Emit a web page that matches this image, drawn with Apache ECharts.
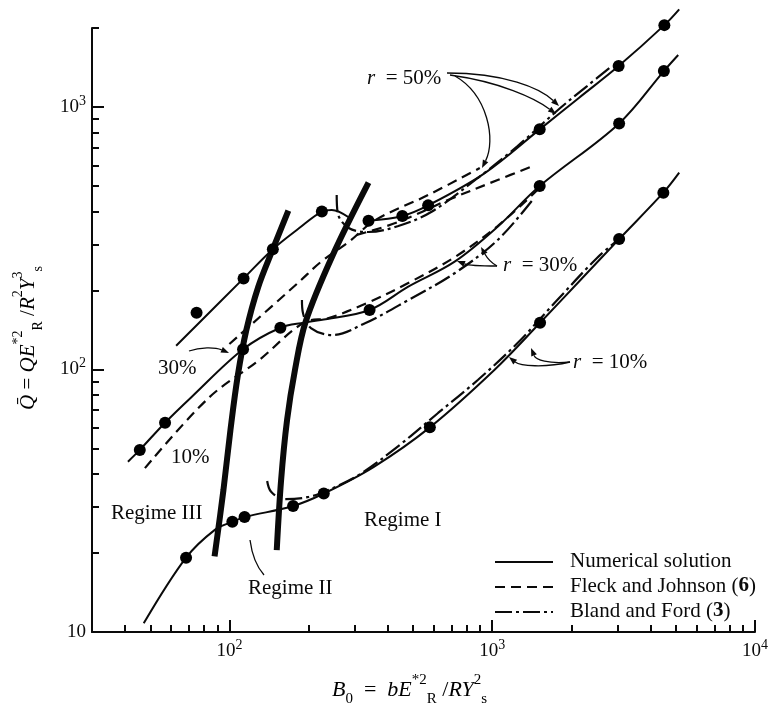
<!DOCTYPE html>
<html><head><meta charset="utf-8">
<script src="https://cdn.jsdelivr.net/npm/echarts@6/dist/echarts.min.js"></script>
<style>html,body{margin:0;padding:0;background:#fff}#c{width:771px;height:711px}</style>
</head><body><div id="c"></div>
<script>
// ---- tick values ----
const xMajorTicks = [100, 1000, 10000];
const xMinorTicks = [40,50,60,70,80,90,200,300,400,500,600,700,800,900,2000,3000,4000,5000,6000,7000,8000,9000];
const yMajorTicks = [10, 100, 1000];
const yMinorTicks = [20,30,40,50,60,70,80,90,200,300,400,500,600,700,800,900,2000];

// ---- numerical solution (solid) [B0, Qbar] ----
const num50RegimeIII = [[62.7,123.2],[113.2,222.4],[146.3,287.3],[183.9,345.1],[224.8,399.8],[245.2,405.3],[284.3,380.1]];
const num50RegimeI = [[338.3,368.8],[455,384.6],[570.4,422],[934,559],[1516,822],[2142,1085],[3027,1432],[4519,2051],[5147,2356]];
const num30 = [[41.1,44.55],[45.6,49.4],[56.9,62.7],[71.8,78.6],[112.7,119.4],[156.3,144.2],[192.1,150.8],[222.7,154.4],[341.4,168.5],[479.3,206.8],[719.6,257.5],[1049,349.9],[1516,500],[3041,866],[4500,1371],[5103,1578]];
const num10 = [[47.2,10.79],[68.4,19.2],[88.0,24.5],[102.6,26.3],[114.2,27.4],[174.7,30.2],[228.6,33.7],[353.4,42.5],[579,60.2],[1019,99.6],[1521,150.7],[2167,219.3],[3041,314],[4480,471.6],[5147,562]];

// ---- computed points (dots) ----
const dots50 = [[75.0,164.6],[113.2,222.4],[146.3,287.3],[224.8,399.8],[338.3,368.8],[455,384.6],[570.4,422],[1516,822],[3027,1432],[4519,2051]];
const dots30 = [[45.6,49.4],[56.9,62.7],[112.7,119.4],[156.3,144.2],[341.4,168.5],[1516,500],[3041,866],[4500,1371]];
const dots10 = [[68.4,19.2],[102.6,26.3],[114.2,27.4],[174.7,30.2],[228.6,33.7],[579,60.2],[1521,150.7],[3041,314],[4480,471.6]];

// ---- regime boundaries (thick) ----
const boundaryIII_II = [[167.6,402.7],[146.3,287.3],[128.7,206.3],[116.0,141.4],[107.7,95.3],[100.9,58.8],[94.9,34.75],[87.8,19.4]];
const boundaryII_I = [[338.3,514.8],[245.8,269.0],[195.0,152.1],[177.6,99.56],[165.7,64.2],[157.3,37.93],[151.4,20.5]];

// ---- Fleck and Johnson (dashed) ----
const fjUpper = [[100,125.1],[183.9,215.4],[222.7,256.8],[284.3,306.0],[359.6,371.1],[570.4,462.1],[896.9,585.6]];
const fj50RegimeI = [[304.8,325.4],[439.3,364.7],[678.8,442.2],[1049,527.2],[1398,590.8]];
const fjLower = [[47.7,42.1],[83.3,77.9],[129.8,108.7],[193.8,151.7],[238.8,157.1],[341.3,180.8],[479.3,213.6],[721.4,268.3],[1049,352.1],[1486,482.9]];

// ---- Bland and Ford (dash-dot) ----
const bf50 = [[256.0,462.1],[258.3,394.8],[284.3,346.0],[338.3,334.1],[439.3,352.1],[585.6,398.1],[881.5,536.5],[1249,710.2],[1815,991.3],[2297,1202],[2855,1433]];
const bf30 = [[188.8,183.9],[190.5,164.1],[204.2,143.9],[245.2,135.3],[329.6,150.4],[479.3,183.9],[721.4,233.2],[1049,311.4],[1423,442.2]];
const bf10 = [[139.2,37.6],[144.1,34.2],[161.4,32.1],[200.6,32.7],[238.8,34.8],[310.1,39.6],[439.3,51.1],[622.3,68.3],[881.5,91.2],[1249,126.2],[1768,183.9],[2505,266.0],[3041,314]];

const FONT = '"Liberation Serif","Times New Roman",serif';
const BLACK = '#0a0a0a';
const chart = echarts.init(document.getElementById('c'));

function supFormatter(v) {
  const e = Math.round(Math.log10(v));
  return e === 1 ? '{b|10}' : '{b|10}{s|' + e + '}';
}
const labelRich = {
  b: {fontFamily: FONT, fontSize: 19, lineHeight: 26, color: BLACK},
  s: {fontFamily: FONT, fontSize: 14, lineHeight: 14, verticalAlign: 'top', color: BLACK}
};

function line(name, data, dash, width, monotone) {
  return {
    type: 'line', name: name, data: data, xAxisIndex: 0, yAxisIndex: 0,
    showSymbol: false, symbol: 'none', smooth: 0.35, smoothMonotone: monotone || null,
    clip: false, silent: true,
    lineStyle: {color: BLACK, width: width, type: dash}, z: 3
  };
}
function dots(data) {
  return {type: 'scatter', name: 'points', data: data, symbol: 'circle', symbolSize: 12,
    itemStyle: {color: '#000', opacity: 1, borderWidth: 0}, clip: false, silent: true, z: 5};
}

const SOLID = 'solid', DASH = [10, 6], DASHDOT = [17, 4, 3, 4];

const series = [
  line('Numerical solution', num50RegimeIII, SOLID, 2),
  line('Numerical solution', num50RegimeI, SOLID, 2),
  line('Numerical solution', num30, SOLID, 2),
  line('Numerical solution', num10, SOLID, 2),
  line('boundary', boundaryIII_II, SOLID, 6),
  line('boundary', boundaryII_I, SOLID, 6),
  line('Fleck and Johnson (6)', fjUpper, DASH, 2.2),
  line('Fleck and Johnson (6)', fj50RegimeI, DASH, 2.2),
  line('Fleck and Johnson (6)', fjLower, DASH, 2.2),
  line('Bland and Ford (3)', bf50, DASHDOT, 2.2),
  line('Bland and Ford (3)', bf30, DASHDOT, 2.2),
  line('Bland and Ford (3)', bf10, DASHDOT, 2.2),
  dots(dots50), dots(dots30), dots(dots10)
];

const grid = {left: 92, right: 12, top: 28, bottom: 79, containLabel: false};
const axisLine = {show: true, onZero: false, lineStyle: {color: BLACK, width: 2}};

const option = {
  animation: false,
  backgroundColor: '#fff',
  grid: grid,
  xAxis: [
    {type: 'log', logBase: 10, min: 30, max: 10000, position: 'bottom',
     axisLine: axisLine, splitLine: {show: false},
     axisTick: {show: true, inside: true, length: 12, lineStyle: {color: BLACK, width: 2}, customValues: xMajorTicks},
     axisLabel: {show: true, margin: 6, customValues: xMajorTicks, formatter: supFormatter, rich: labelRich}},
    {type: 'log', logBase: 10, min: 30, max: 10000, position: 'bottom',
     axisLine: {show: false}, splitLine: {show: false},
     axisTick: {show: true, inside: true, length: 7, lineStyle: {color: BLACK, width: 2}, customValues: xMinorTicks},
     axisLabel: {show: false}}
  ],
  yAxis: [
    {type: 'log', logBase: 10, min: 10, max: 2000, position: 'left',
     axisLine: axisLine, splitLine: {show: false},
     axisTick: {show: true, inside: true, length: 12, lineStyle: {color: BLACK, width: 2}, customValues: yMajorTicks},
     axisLabel: {show: true, margin: 6, customValues: yMajorTicks, formatter: supFormatter, rich: labelRich}},
    {type: 'log', logBase: 10, min: 10, max: 2000, position: 'left',
     axisLine: {show: false}, splitLine: {show: false},
     axisTick: {show: true, inside: true, length: 7, lineStyle: {color: BLACK, width: 2}, customValues: yMinorTicks},
     axisLabel: {show: false}}
  ],
  series: series
};
chart.setOption(option);

// ---- annotations (text, arrows, legend) ----
const txtRich = {
  i: {fontFamily: FONT, fontSize: 21, fontStyle: 'italic', color: BLACK},
  n: {fontFamily: FONT, fontSize: 21, color: BLACK},
  bd: {fontFamily: FONT, fontSize: 21, fontWeight: 'bold', color: BLACK}
};
function text(str, x, y) {
  return {type: 'text', x: x, y: y, z: 10, silent: true,
    style: {text: str, fill: BLACK, font: '21px ' + FONT, align: 'left', verticalAlign: 'middle', rich: txtRich}};
}
function arrow(p0, c1, c2, p1) {
  const dx = p1[0] - c2[0], dy = p1[1] - c2[1];
  const L = Math.sqrt(dx*dx + dy*dy) || 1, ux = dx / L, uy = dy / L;
  const hl = 8, hw = 3;
  const bx = p1[0] - ux*hl, by = p1[1] - uy*hl;
  return [
    {type: 'bezierCurve', silent: true, z: 9,
     shape: {x1: p0[0], y1: p0[1], cpx1: c1[0], cpy1: c1[1], cpx2: c2[0], cpy2: c2[1], x2: bx, y2: by},
     style: {stroke: BLACK, lineWidth: 1.3, fill: null}},
    {type: 'polygon', silent: true, z: 9,
     shape: {points: [[p1[0], p1[1]], [bx - uy*hw, by + ux*hw], [bx + uy*hw, by - ux*hw]]},
     style: {fill: BLACK}}
  ];
}
const g = [];
g.push(text('{i|r}{n|  = 50%}', 367, 78));
g.push(text('{i|r}{n|  = 30%}', 503, 265));
g.push(text('{i|r}{n|  = 10%}', 573, 362));
g.push(text('{n|30%}', 158, 368));
g.push(text('{n|10%}', 171, 457));
g.push(text('{n|Regime III}', 111, 513));
g.push(text('{n|Regime II}', 248, 588));
g.push(text('{n|Regime I}', 364, 520));
// arrows
g.push(...arrow([447, 73], [505, 73], [540, 88], [559, 106]));
g.push(...arrow([450, 75], [500, 82], [535, 98], [556, 114]));
g.push(...arrow([455, 76], [488, 95], [496, 140], [482, 168]));
g.push(...arrow([497, 266], [485, 266], [470, 266], [457, 261]));
g.push(...arrow([497, 266], [490, 262], [486, 256], [481, 247]));
g.push(...arrow([570, 362], [548, 364], [536, 360], [531, 348]));
g.push(...arrow([570, 362], [545, 368], [520, 366], [509, 357]));
g.push(...arrow([189, 351], [200, 347], [215, 347], [229, 353]));
g.push({type: 'bezierCurve', silent: true, z: 9,
  shape: {x1: 250, y1: 540, cpx1: 252, cpy1: 555, cpx2: 256, cpy2: 566, x2: 264, y2: 575},
  style: {stroke: BLACK, lineWidth: 1.3, fill: null}});
// legend
const legendRows = [
  {label: '{n|Numerical solution}', dash: null, y: 562},
  {label: '{n|Fleck and Johnson (}{bd|6}{n|)}', dash: DASH, y: 587},
  {label: '{n|Bland and Ford (}{bd|3}{n|)}', dash: DASHDOT, y: 612}
];
legendRows.forEach(function (r) {
  g.push({type: 'line', silent: true, z: 9, shape: {x1: 495, y1: r.y, x2: 553, y2: r.y},
    style: {stroke: BLACK, lineWidth: 2.2, lineDash: r.dash}});
  g.push(text(r.label, 570, r.y - 1));
});
// axis titles
const titleRich = {
  i: {fontFamily: FONT, fontSize: 22, fontStyle: 'italic', lineHeight: 34, color: BLACK},
  n: {fontFamily: FONT, fontSize: 22, lineHeight: 34, color: BLACK},
  sp: {fontFamily: FONT, fontSize: 15, lineHeight: 15, verticalAlign: 'top', color: BLACK},
  sb: {fontFamily: FONT, fontSize: 15, lineHeight: 15, verticalAlign: 'bottom', color: BLACK}
};
g.push({type: 'text', x: 332, y: 690, z: 10, silent: true,
  style: {text: '{i|B}{sb|0}{n|  =  }{i|bE}{sp|*2}{sb|R}{n| /}{i|RY}{sp|2}{sb|s}', align: 'left', verticalAlign: 'middle',
    rich: titleRich}});
g.push({type: 'text', x: 28, y: 410, rotation: Math.PI / 2, z: 10, silent: true,
  style: {text: '{i|Q̄}{n| = }{i|QE}{sp|*2}{sb|R}{n| /}{i|R}{sp|2}{i|Y}{sp|3}{sb|s}', align: 'left', verticalAlign: 'middle',
    rich: {
      i: {fontFamily: FONT, fontSize: 21, fontStyle: 'italic', lineHeight: 34, color: BLACK},
      n: {fontFamily: FONT, fontSize: 21, lineHeight: 34, color: BLACK},
      sp: {fontFamily: FONT, fontSize: 14, lineHeight: 15, verticalAlign: 'top', color: BLACK},
      sb: {fontFamily: FONT, fontSize: 14, lineHeight: 15, verticalAlign: 'bottom', color: BLACK}}}});
chart.setOption({graphic: {elements: g}});
</script>
</body></html>
